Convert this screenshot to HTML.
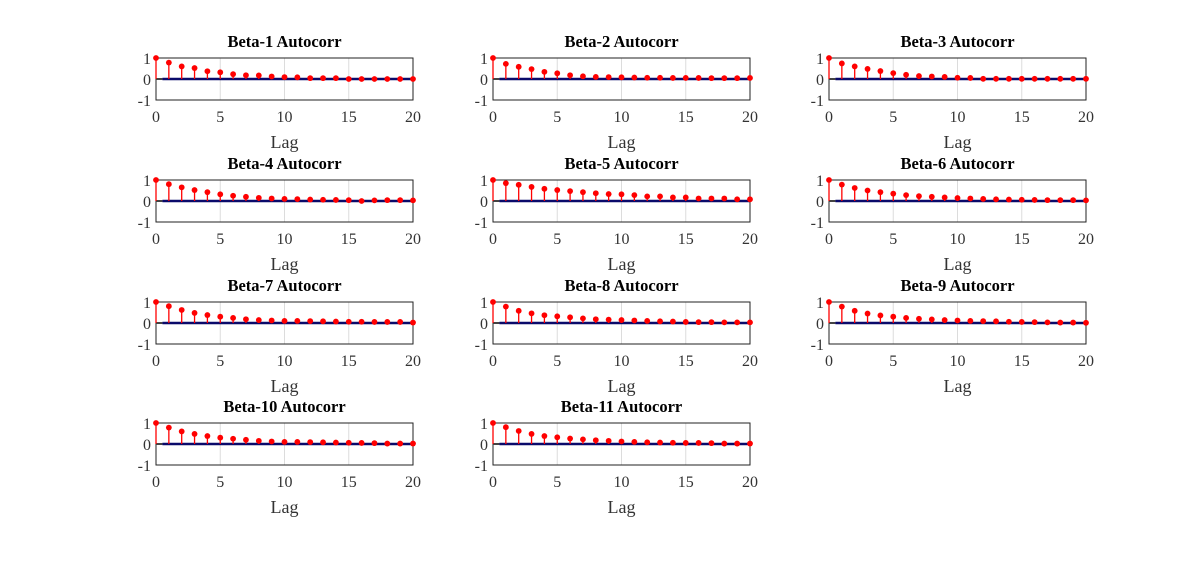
<!DOCTYPE html>
<html><head><meta charset="utf-8"><style>
body{margin:0;background:#fff;}
svg text{font-family:"Liberation Serif",serif;}
</style></head><body>
<svg id="c" width="1199" height="556" xmlns="http://www.w3.org/2000/svg"></svg>
<script>
const titles=["Beta-1 Autocorr","Beta-2 Autocorr","Beta-3 Autocorr","Beta-4 Autocorr","Beta-5 Autocorr","Beta-6 Autocorr","Beta-7 Autocorr","Beta-8 Autocorr","Beta-9 Autocorr","Beta-10 Autocorr","Beta-11 Autocorr"];
const xTicks=[0,5,10,15,20];
const yTicks=[1,0,-1];
const acf1=[1,.78,.6,.52,.37,.32,.23,.18,.17,.12,.09,.08,.04,.04,.04,0,0,0,0,0,0];
const acf2=[1,.72,.58,.47,.34,.27,.18,.13,.1,.09,.08,.07,.06,.06,.05,.05,.05,.04,.04,.04,.05];
const acf3=[1,.74,.6,.48,.38,.28,.2,.14,.12,.1,.06,.05,.01,.01,.01,.01,.01,.01,.01,.01,.01];
const acf4=[1,.8,.65,.52,.42,.32,.25,.2,.15,.12,.1,.09,.07,.06,.05,.04,0,.03,.04,.04,.03];
const acf5=[1,.85,.77,.67,.58,.52,.47,.42,.37,.33,.32,.28,.22,.22,.17,.17,.12,.12,.12,.08,.08];
const acf6=[1,.78,.62,.5,.42,.35,.28,.23,.2,.17,.14,.12,.1,.08,.07,.06,.05,.04,.04,.04,.03];
const acf7=[1,.8,.62,.48,.38,.3,.24,.18,.14,.12,.1,.1,.09,.08,.07,.06,.06,.05,.05,.05,.02];
const acf8=[1,.78,.58,.46,.37,.32,.27,.22,.18,.16,.14,.12,.1,.08,.07,.05,.04,.04,.03,.03,.03];
const acf9=[1,.78,.58,.45,.36,.3,.24,.2,.17,.14,.12,.1,.09,.08,.06,.05,.04,.03,.02,.02,.01];
const acf10=[1,.78,.6,.48,.38,.3,.25,.2,.15,.12,.1,.1,.09,.08,.07,.06,.05,.04,.02,.02,.02];
const acf11=[1,.8,.62,.48,.38,.32,.26,.22,.18,.15,.12,.1,.08,.07,.06,.05,.05,.04,.02,.02,.02];
const series=[acf1,acf2,acf3,acf4,acf5,acf6,acf7,acf8,acf9,acf10,acf11];
const colX=[156,493,829], W=257, rowY=[58,180,302,423], H=42;
const svg=document.getElementById('c');
const NS="http://www.w3.org/2000/svg";
function mk(t,a,p){const e=document.createElementNS(NS,t);for(const k in a)e.setAttribute(k,a[k]);(p||svg).appendChild(e);return e;}
series.forEach((vals,i)=>{
  const x0=colX[i%3], y0=rowY[Math.floor(i/3)];
  const sx=v=>x0+v/20*W, sy=v=>y0+(1-v)/2*H;
  const g=mk('g',{});
  
  
  [5,10,15].forEach(v=>{const l=mk('line',{x1:sx(v),x2:sx(v),y1:y0,y2:y0+H,stroke:'#dcdcdc','stroke-width':1},g);
    });
  const fr=mk('rect',{x:x0,y:y0,width:W,height:H,fill:'none',stroke:'#222','stroke-width':1},g);
  
  const t=mk('text',{x:x0+W/2,y:y0-11,'text-anchor':'middle','font-size':16.5,'font-weight':'bold'},g);t.textContent=titles[i];
  
  yTicks.forEach(v=>{const tt=mk('text',{x:x0-5,y:sy(v)+6,'text-anchor':'end','font-size':16,fill:'#333'},g);tt.textContent=v;
    });
  xTicks.forEach(v=>{const tt=mk('text',{x:sx(v),y:y0+H+22,'text-anchor':'middle','font-size':16,fill:'#333'},g);tt.textContent=v;
    });
  const xl=mk('text',{x:x0+W/2,y:y0+H+48,'text-anchor':'middle','font-size':18,fill:'#333'},g);xl.textContent='Lag';
  
  mk('line',{x1:sx(0),x2:sx(0.5),y1:sy(0),y2:sy(0),stroke:'#444','stroke-width':2},g);
  const zl=mk('line',{x1:sx(0.5),x2:sx(20),y1:sy(0),y2:sy(0),stroke:'#0a0a6a','stroke-width':2.5},g);
  
  vals.forEach((v,k)=>{
    const s=mk('line',{x1:sx(k),x2:sx(k),y1:sy(0),y2:sy(v),stroke:'#f00','stroke-width':1.3},g);
    
    const c=mk('circle',{cx:sx(k),cy:sy(v),r:2.9,fill:'#f00'},g);
    
  });
});
</script>
</body></html>
